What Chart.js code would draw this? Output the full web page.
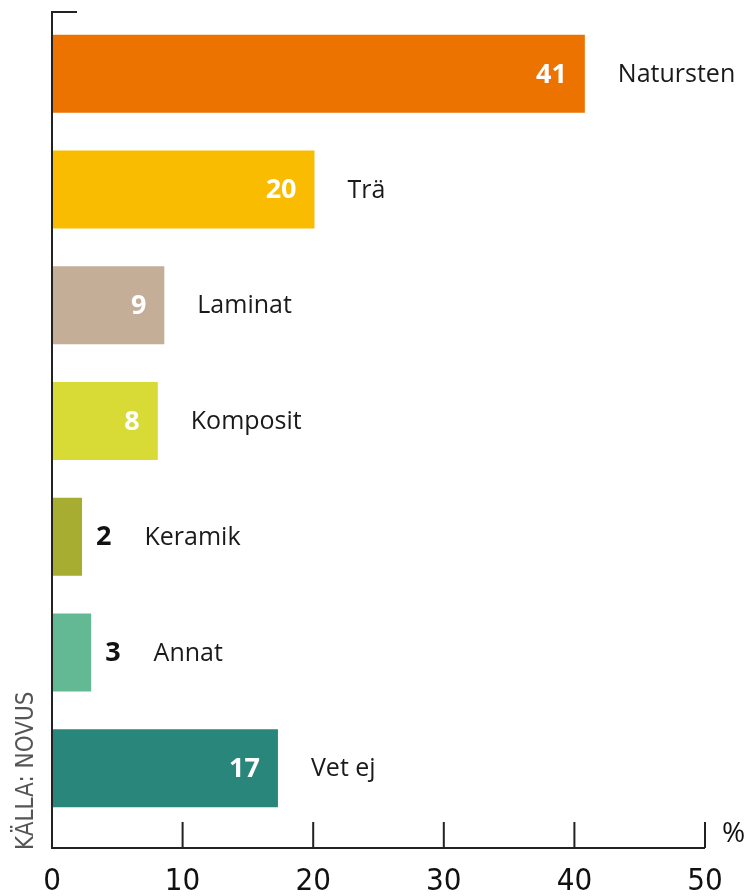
<!DOCTYPE html>
<html>
<head>
<meta charset="utf-8">
<script src="https://cdn.jsdelivr.net/npm/chart.js@4/dist/chart.umd.min.js"></script>
<style>
  html, body { margin: 0; padding: 0; background: #fff; }
</style>
</head>
<body>
<canvas id="material" width="752" height="896"></canvas>
<script>
// data (percent)
const categories = ["Natursten", "Trä", "Laminat", "Komposit", "Keramik", "Annat", "Vet ej"];
const shares = [40.8, 20.1, 8.6, 8.1, 2.3, 3.0, 17.3];
const shownValues = [41, 20, 9, 8, 2, 3, 17];
const barColors = ["#ec7300", "#f9bc00", "#c4ae97", "#d8da36", "#a7ad31", "#63b993", "#28867a"];
const xTicks = [0, 10, 20, 30, 40, 50];
const sourceText = "KÄLLA: NOVUS";
const unitText = "%";

const labelFont = "'Open Sans', Lato, sans-serif";
const tickFont = "'Liberation Sans Narrow', 'DejaVu Sans Condensed', sans-serif";

// draws the L-shaped axes, tick marks, value and category labels
const decorations = {
  id: "decorations",
  afterDatasetsDraw(chart) {
    const { ctx, chartArea, scales } = chart;
    const x = scales.x;
    const meta = chart.getDatasetMeta(0);
    ctx.save();
    ctx.textBaseline = "middle";

    meta.data.forEach((bar, i) => {
      const v = String(shownValues[i]);
      let textEnd;
      ctx.font = "700 27px " + labelFont;
      if (shares[i] > 5) {
        ctx.fillStyle = "#ffffff";
        ctx.textAlign = "right";
        ctx.fillText(v, bar.x - 18, bar.y + 1);
        textEnd = bar.x;
      } else {
        ctx.fillStyle = "#111111";
        ctx.textAlign = "left";
        ctx.fillText(v, bar.x + 14, bar.y + 1);
        textEnd = bar.x + 14 + ctx.measureText(v).width;
      }
      ctx.font = "400 25px " + labelFont;
      ctx.fillStyle = "#1a1a1a";
      ctx.textAlign = "left";
      ctx.fillText(categories[i], textEnd + 33, bar.y + 1);
    });

    const axisY = chartArea.bottom + 22;
    const x0 = x.getPixelForValue(xTicks[0]);
    const xEnd = x.getPixelForValue(xTicks[xTicks.length - 1]);
    ctx.strokeStyle = "#222222";
    ctx.lineWidth = 2;
    ctx.beginPath();
    ctx.moveTo(x0 + 25, 12);
    ctx.lineTo(x0, 12);
    ctx.lineTo(x0, axisY);
    ctx.lineTo(xEnd, axisY);
    xTicks.slice(1).forEach((t) => {
      const px = x.getPixelForValue(t);
      ctx.moveTo(px, axisY);
      ctx.lineTo(px, axisY - 26);
    });
    ctx.stroke();

    ctx.fillStyle = "#111111";
    ctx.font = "400 28px " + labelFont;
    ctx.textAlign = "left";
    ctx.fillText(unitText, xEnd + 17, axisY - 14);

    ctx.translate(27, axisY + 2);
    ctx.rotate(-Math.PI / 2);
    ctx.fillStyle = "#555555";
    ctx.font = "400 24px " + tickFont;
    ctx.textAlign = "left";
    ctx.fillText(sourceText, 0, 0);
    ctx.restore();
  }
};

const config_material = {
  type: "bar",
  data: {
    labels: categories,
    datasets: [
      {
        data: shares,
        backgroundColor: barColors,
        borderWidth: 0,
        categoryPercentage: 1,
        barPercentage: 0.674,
      },
    ],
  },
  options: {
    indexAxis: "y",
    responsive: false,
    animation: false,
    layout: { padding: { left: 52, right: 47, top: 16, bottom: 0 } },
    scales: {
      x: {
        min: 0,
        max: 50,
        afterFit: (s) => { s.height = 70; },
        grid: { display: false },
        border: { display: false },
        ticks: {
          stepSize: 10,
          padding: 29,
          color: "#111111",
          font: { family: tickFont, size: 31 },
        },
      },
      y: { display: false },
    },
    plugins: {
      legend: { display: false },
      tooltip: { enabled: false },
    },
  },
  plugins: [decorations],
};

const material = new Chart(document.getElementById("material"), config_material);
</script>
</body>
</html>
